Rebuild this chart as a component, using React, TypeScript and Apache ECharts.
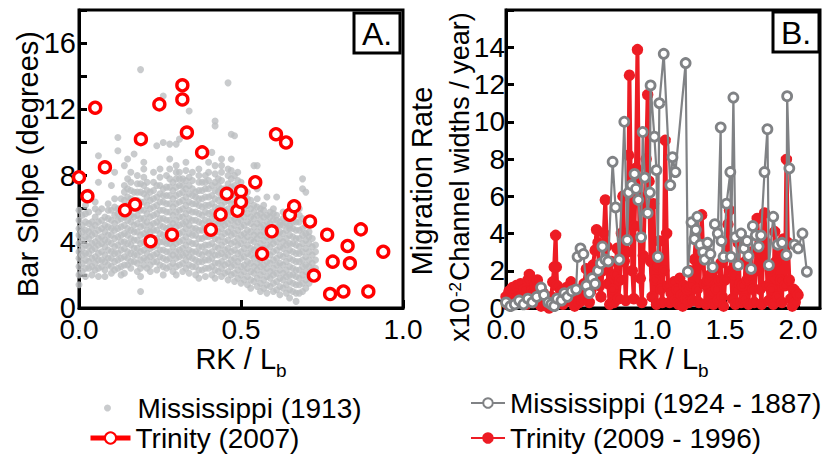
import React, { useEffect, useRef } from "react";
import * as echarts from "echarts";

const FONT = "'Liberation Sans Narrow', 'Arial Narrow', 'Liberation Sans', Arial, sans-serif";

// Panel A: Mississippi (1913) bar slope cloud, read column by column: "x|y y y ..."
const mississippiSlopeColumns: string[] = [
  "0.00|1.4 2.0 2.5 3.0 3.4 3.9 4.4 4.8 5.3 5.9",
  "0.01|2.2 2.7 3.2 3.6 4.1 4.6 5.0 5.6",
  "0.02|1.9 2.4 2.9 3.3 3.8 4.3 4.7 5.2 5.7 6.2",
  "0.03|2.4 2.8 3.3 3.7 4.2 4.6 5.1 5.8 7.0",
  "0.04|2.0 2.5 3.0 3.5 3.9 4.4 4.8 5.2",
  "0.05|2.3 2.7 3.1 3.6 4.0 4.5 5.0 5.5 6.0 6.4",
  "0.06|1.9 2.4 2.9 3.3 3.8 4.2 4.7 5.2 5.8 7.6 9.2",
  "0.07|2.5 2.9 3.4 3.9 4.3 4.8 5.3 6.0",
  "0.08|1.9 2.3 2.8 3.2 3.7 4.1 4.6 5.0 5.5",
  "0.09|2.6 3.0 3.5 4.0 4.4 4.9 5.4 5.9 6.3",
  "0.10|2.1 2.5 3.0 3.4 3.9 4.4 4.8 5.3 5.9 7.4",
  "0.11|2.3 2.8 3.3 3.7 4.2 4.7 5.1 5.6 6.1 6.6 8.2",
  "0.12|2.4 2.9 3.3 3.8 4.3 4.8 5.3 5.7 6.0 9.5 10.3",
  "0.13|2.0 2.5 3.0 3.5 4.0 4.4 4.9 5.4 5.9 6.6",
  "0.14|2.1 2.6 3.1 3.6 4.0 4.5 5.0 5.5 6.0 6.5 7.0 7.4 8.6",
  "0.15|2.6 3.0 3.4 3.9 4.4 4.8 5.3 5.8 6.2 6.7 7.2 7.8 9.0",
  "0.16|2.4 2.8 3.3 3.8 4.2 4.7 5.2 5.6 6.1 6.6 7.1 7.6 8.2",
  "0.17|2.8 3.2 3.6 4.1 4.6 5.0 5.5 6.0 6.5 7.0 9.3",
  "0.18|2.2 2.7 3.2 3.6 4.1 4.6 5.1 5.6 6.0 6.5 7.0 7.5 8.0",
  "0.19|1.0 1.9 2.4 2.9 3.4 3.9 4.4 4.9 5.4 5.9 6.4 7.0 7.5 14.4",
  "0.20|2.6 3.0 3.5 4.0 4.5 5.0 5.4 5.9 6.4 6.9 7.4 7.9 8.4 8.8",
  "0.21|2.4 2.9 3.3 3.8 4.3 4.7 5.2 5.7 6.2 6.7 7.1 7.6",
  "0.22|2.2 2.6 3.1 3.6 4.1 4.6 5.0 5.5 6.0 6.5 7.0",
  "0.23|2.8 3.2 3.7 4.2 4.7 5.1 5.6 6.1 6.6 7.1 7.6 8.2",
  "0.24|2.3 2.8 3.3 3.8 4.2 4.7 5.2 5.7 6.2 6.7 7.4 9.8",
  "0.25|2.6 3.1 3.5 4.0 4.5 5.0 5.4 5.9 6.4 6.9 7.4 7.9 8.4",
  "0.26|2.0 2.5 3.0 3.5 4.0 4.4 4.9 5.4 5.9 6.4 6.8 7.2 10.0 12.8",
  "0.27|2.4 2.9 3.4 3.9 4.3 4.8 5.3 5.8 6.3 6.8 7.3 8.0",
  "0.28|2.5 3.0 3.4 3.9 4.4 4.9 5.3 5.8 6.3 6.8 7.3 7.8 8.4 9.0 9.9",
  "0.29|2.2 2.7 3.2 3.7 4.1 4.6 5.1 5.6 6.1 6.6 7.1 7.6",
  "0.30|2.0 2.5 3.0 3.4 3.9 4.4 4.9 5.3 5.8 6.3 6.8 7.3 7.8 8.2 8.6 9.9",
  "0.31|2.6 3.1 3.5 4.0 4.5 5.0 5.5 5.9 6.4 6.9 7.4 7.8 8.2 10.2",
  "0.32|2.2 2.7 3.2 3.6 4.1 4.6 5.1 5.5 6.0 6.5 7.0 7.4 7.8",
  "0.33|2.4 2.9 3.3 3.8 4.3 4.8 5.2 5.7 6.2 6.7 7.2 7.7 8.3 8.8 10.8",
  "0.34|2.1 2.6 3.1 3.5 4.0 4.5 5.0 5.4 5.9 6.4 6.9 7.4 7.9 11.9",
  "0.35|2.5 3.0 3.4 3.9 4.4 4.8 5.3 5.8 6.3 6.8 7.2 7.7 8.2",
  "0.36|2.0 2.5 2.9 3.4 3.9 4.4 4.8 5.3 5.8 6.3 6.7 7.0",
  "0.37|1.8 2.3 2.8 3.3 3.7 4.2 4.7 5.2 5.7 6.2 6.6 7.1 7.6 8.0 8.4",
  "0.38|2.3 2.8 3.2 3.7 4.2 4.7 5.1 5.6 6.1 6.6 7.1 7.6",
  "0.39|1.9 2.4 2.9 3.4 3.8 4.3 4.8 5.3 5.8 6.2 6.7 7.2 7.6 8.0",
  "0.40|2.4 2.9 3.3 3.8 4.3 4.7 5.2 5.7 6.2 6.7 7.2 7.7 8.2 8.8",
  "0.41|2.0 2.5 3.0 3.4 3.9 4.4 4.9 5.4 5.8 6.3 6.8 7.4 9.4",
  "0.42|1.8 2.3 2.7 3.2 3.7 4.2 4.6 5.1 5.6 6.1 6.6 7.1 7.6 8.1 8.6 11.0 11.3",
  "0.43|2.2 2.7 3.2 3.6 4.1 4.6 5.1 5.5 6.0 6.5 7.0 7.4 7.8",
  "0.44|1.9 2.4 2.8 3.3 3.8 4.3 4.8 5.2 5.7 6.2 6.7 7.2 7.7 8.2 8.6 9.0",
  "0.45|2.1 2.6 3.1 3.5 4.0 4.5 5.0 5.4 5.9 6.4 6.8 7.2",
  "0.46|1.7 2.2 2.7 3.2 3.6 4.1 4.6 5.1 5.6 6.0 6.5 7.0 7.5 8.0 8.4 13.6",
  "0.47|2.0 2.5 2.9 3.4 3.9 4.4 4.8 5.3 5.8 6.3 6.8 7.3 7.8 8.3 9.0 10.5",
  "0.48|1.6 2.1 2.6 3.0 3.5 4.0 4.5 5.0 5.4 5.9 6.4 6.9 7.4 8.0 10.4",
  "0.49|1.8 2.3 2.8 3.3 3.8 4.2 4.7 5.2 5.7 6.2 6.7 7.2 7.7 8.2",
  "0.50|1.5 2.0 2.5 3.0 3.4 3.9 4.4 4.9 5.3 5.8 6.3 6.8 7.2 7.6",
  "0.51|1.7 2.2 2.6 3.1 3.6 4.1 4.5 5.0 5.5 6.0 6.4 6.8",
  "0.52|1.4 1.9 2.4 2.8 3.3 3.8 4.3 4.7 5.2 5.7 6.2 6.6 7.0",
  "0.53|1.2 1.7 2.2 2.7 3.2 3.6 4.1 4.6 5.1 5.5 6.0 6.5",
  "0.54|1.6 2.1 2.5 3.0 3.5 4.0 4.4 4.9 5.4 5.8 6.2 8.6",
  "0.55|1.3 1.8 2.3 2.7 3.2 3.7 4.2 4.6 5.1 5.6 6.1 6.6 7.2 8.6",
  "0.56|1.0 1.5 2.0 2.5 2.9 3.4 3.9 4.4 4.9 5.3 5.7 6.0",
  "0.57|1.2 1.7 2.2 2.6 3.1 3.6 4.1 4.6 5.0 5.5 5.9 6.2",
  "0.58|0.9 1.4 1.9 2.4 2.8 3.3 3.8 4.3 4.8 5.2 5.6 6.7",
  "0.59|1.3 1.8 2.2 2.7 3.2 3.7 4.1 4.6 5.1 5.5 5.8",
  "0.60|1.0 1.5 2.0 2.4 2.9 3.4 3.9 4.3 4.8 5.3 5.7 6.0",
  "0.61|1.1 1.6 2.1 2.6 3.0 3.5 4.0 4.5 4.9 5.3 5.6 6.7",
  "0.62|0.8 1.3 1.8 2.3 2.7 3.2 3.7 4.2 4.6 5.0 5.2",
  "0.63|1.2 1.7 2.1 2.6 3.1 3.6 4.0 4.5 5.0 5.4 5.8",
  "0.64|0.9 1.4 1.9 2.3 2.8 3.3 3.8 4.2 4.7 5.1 5.4",
  "0.65|0.6 1.1 1.6 2.0 2.5 3.0 3.5 3.9 4.4 4.8 5.0",
  "0.66|1.0 1.5 2.0 2.4 2.9 3.4 3.9 4.3 4.8 5.2 5.6",
  "0.67|0.4 0.9 1.4 1.9 2.3 2.8 3.3 3.8 4.2 4.7 5.2",
  "0.68|0.9 1.4 1.8 2.3 2.8 3.3 3.7 4.2 4.7 5.2 5.6 6.0",
  "0.69|1.0 1.5 2.0 2.5 2.9 3.4 3.9 4.4 4.8 5.4 7.2 7.8",
  "0.70|1.2 1.7 2.2 2.6 3.1 3.6 4.1 4.5 5.0 7.0",
  "0.71|1.5 2.0 2.5 2.9 3.4 3.9 4.3 4.6",
  "0.72|1.8 2.3 2.7 3.2 3.7 4.2",
  "0.73|2.0 2.4 2.9 3.4 3.8",
];

// Panel A: Trinity (2007) bar slope
const trinitySlope: number[][] = [
  [0.0, 7.9], [0.026, 6.75], [0.05, 12.1], [0.08, 8.5], [0.142, 5.9], [0.173, 6.25],
  [0.191, 10.2], [0.221, 4.03], [0.248, 12.3], [0.287, 4.43], [0.319, 13.45], [0.319, 12.6],
  [0.333, 10.6], [0.38, 9.4], [0.407, 4.73], [0.437, 5.65], [0.456, 6.9], [0.489, 5.87],
  [0.5, 7.05], [0.5, 6.4], [0.544, 7.6], [0.565, 3.27], [0.595, 4.63], [0.608, 10.5],
  [0.639, 10.0], [0.651, 5.63], [0.664, 6.15], [0.713, 5.23], [0.725, 1.96], [0.766, 4.43],
  [0.775, 0.84], [0.783, 2.8], [0.816, 1.0], [0.829, 3.75], [0.836, 2.7], [0.87, 4.75],
  [0.893, 1.0], [0.939, 3.4],
];

// Panel B: Mississippi (1924 - 1887) migration rate
const mississippiMigration: number[][] = [
  [0.0, 0.3], [0.03, 0.1], [0.06, 0.2], [0.09, 0.4], [0.12, 0.2], [0.15, 0.5], [0.18, 0.3],
  [0.21, 0.6], [0.24, 1.1], [0.26, 0.7], [0.29, 0.3], [0.31, 0.2], [0.33, 0.1], [0.35, 0.5],
  [0.38, 0.4], [0.4, 0.8], [0.42, 0.6], [0.45, 0.9], [0.48, 1.0], [0.49, 2.75], [0.51, 3.2],
  [0.53, 2.9], [0.55, 1.2], [0.57, 0.8], [0.59, 1.6], [0.61, 1.3], [0.63, 2.0], [0.65, 2.4],
  [0.66, 3.3], [0.68, 2.6], [0.7, 2.5], [0.73, 7.85], [0.75, 5.4], [0.776, 2.6], [0.81, 10.0],
  [0.83, 3.65], [0.84, 6.2], [0.86, 6.6], [0.88, 7.2], [0.89, 6.4], [0.906, 5.8], [0.925, 3.8],
  [0.936, 9.45], [0.95, 7.0], [0.97, 5.1], [0.985, 6.2], [0.99, 11.95], [1.016, 9.2], [1.03, 7.4],
  [1.04, 2.75], [1.05, 11.0], [1.08, 13.65], [1.125, 6.6], [1.14, 8.1], [1.16, 7.3], [1.23, 13.15],
  [1.245, 1.95], [1.27, 4.6], [1.29, 3.7], [1.3, 4.2], [1.31, 4.9], [1.33, 3.4], [1.35, 3.0],
  [1.36, 2.6], [1.38, 3.5], [1.4, 2.9], [1.415, 2.2], [1.43, 4.5], [1.45, 4.0], [1.47, 9.7],
  [1.475, 3.6], [1.49, 2.75], [1.51, 5.6], [1.536, 7.3], [1.54, 2.75], [1.557, 11.3], [1.57, 3.8],
  [1.59, 2.3], [1.61, 4.0], [1.63, 3.2], [1.65, 3.6], [1.66, 2.8], [1.678, 2.1], [1.69, 4.4],
  [1.71, 3.9], [1.73, 3.3], [1.746, 3.9], [1.77, 7.3], [1.79, 9.6], [1.8, 2.3], [1.83, 4.9],
  [1.86, 3.4], [1.89, 3.5], [1.92, 2.85], [1.925, 11.37], [1.94, 7.5], [1.975, 3.4], [2.0, 3.2],
  [2.03, 4.0], [2.06, 1.95],
];

// Panel B: Trinity (2009 - 1996) migration rate
const trinityMigration: number[][] = [
  [0.0, 0.6], [0.01, 0.2], [0.02, 0.9], [0.03, 0.5], [0.045, 1.1], [0.06, 0.3], [0.07, 1.2],
  [0.085, 0.4], [0.1, 1.3], [0.11, 0.7], [0.125, 1.0], [0.14, 0.2], [0.15, 1.5], [0.16, 1.8],
  [0.175, 0.9], [0.19, 0.3], [0.2, 1.2], [0.215, 1.5], [0.23, 0.6], [0.24, 0.1], [0.255, 0.8],
  [0.27, 0.3], [0.28, 0.5], [0.295, 0.0], [0.31, 0.6], [0.32, 1.4], [0.33, 2.2], [0.34, 3.9],
  [0.345, 2.2], [0.35, 1.2], [0.36, 0.5], [0.375, 0.9], [0.39, 0.2], [0.4, 0.6], [0.415, 1.1],
  [0.43, 0.4], [0.445, 1.4], [0.46, 0.8], [0.47, 0.1], [0.485, 0.5], [0.5, 0.3], [0.51, 1.0],
  [0.52, 0.4], [0.535, 1.3], [0.55, 2.1], [0.56, 1.4], [0.57, 0.3], [0.58, 0.9], [0.595, 2.3],
  [0.61, 3.1], [0.62, 4.2], [0.63, 3.5], [0.64, 1.2], [0.65, 0.6], [0.66, 2.0], [0.67, 4.0],
  [0.68, 5.8], [0.69, 3.3], [0.7, 1.3], [0.71, 0.2], [0.72, 2.5], [0.73, 1.0], [0.74, 0.3],
  [0.75, 1.8], [0.76, 3.2], [0.77, 0.5], [0.78, 1.5], [0.79, 4.0], [0.8, 6.0], [0.81, 2.5],
  [0.82, 0.4], [0.83, 3.0], [0.84, 8.2], [0.845, 12.5], [0.855, 6.3], [0.865, 2.0], [0.875, 0.5],
  [0.88, 4.4], [0.89, 7.5], [0.9, 13.87], [0.91, 6.0], [0.92, 1.6], [0.93, 0.3], [0.94, 2.8],
  [0.95, 5.5], [0.96, 8.0], [0.97, 11.45], [0.98, 6.8], [0.99, 2.5], [1.0, 0.6], [1.01, 5.6],
  [1.02, 1.5], [1.03, 0.2], [1.04, 2.2], [1.05, 3.6], [1.06, 1.0], [1.07, 0.3], [1.08, 2.0],
  [1.09, 9.0], [1.1, 4.0], [1.11, 1.2], [1.12, 0.3], [1.13, 0.8], [1.15, 1.4], [1.16, 0.4],
  [1.17, 1.0], [1.18, 0.2], [1.19, 1.6], [1.2, 0.7], [1.21, 0.1], [1.22, 1.2], [1.23, 0.5],
  [1.24, 1.0], [1.25, 0.3], [1.26, 2.0], [1.27, 1.2], [1.28, 0.4], [1.29, 2.6], [1.3, 3.8],
  [1.31, 1.0], [1.32, 0.3], [1.33, 2.5], [1.34, 5.0], [1.35, 3.0], [1.36, 1.3], [1.37, 0.2],
  [1.38, 1.5], [1.39, 0.5], [1.4, 1.8], [1.41, 0.8], [1.42, 0.2], [1.43, 2.1], [1.44, 1.0],
  [1.45, 0.4], [1.46, 1.5], [1.47, 2.4], [1.48, 0.6], [1.49, 0.1], [1.5, 1.5], [1.51, 3.0],
  [1.52, 4.5], [1.53, 5.25], [1.54, 2.0], [1.55, 0.5], [1.56, 1.8], [1.57, 0.2], [1.58, 1.0],
  [1.59, 3.5], [1.6, 1.3], [1.61, 0.3], [1.62, 1.2], [1.63, 0.5], [1.64, 2.5], [1.65, 1.5],
  [1.66, 0.2], [1.67, 1.8], [1.68, 3.0], [1.69, 1.0], [1.7, 0.3], [1.71, 2.0], [1.72, 4.8],
  [1.73, 3.2], [1.74, 1.0], [1.75, 0.2], [1.76, 2.8], [1.77, 5.1], [1.78, 3.5], [1.79, 1.2],
  [1.8, 0.4], [1.81, 2.0], [1.82, 1.0], [1.83, 0.2], [1.84, 4.1], [1.85, 2.5], [1.86, 0.6],
  [1.87, 3.0], [1.88, 1.5], [1.89, 0.3], [1.9, 3.7], [1.91, 1.2], [1.92, 7.97], [1.93, 3.5],
  [1.94, 1.5], [1.95, 0.5], [1.96, 0.1], [1.97, 1.0], [1.98, 0.3], [1.99, 0.8], [2.0, 0.7],
];

const seriesNames = {
  missA: "Mississippi (1913)",
  trinA: "Trinity (2007)",
  missB: "Mississippi (1924 - 1887)",
  trinB: "Trinity (2009 - 1996)",
};

export default function App() {
  const ref = useRef<HTMLDivElement>(null);

  useEffect(() => {
    if (!ref.current) return;
    const chart = echarts.init(ref.current, undefined, { renderer: "svg" });

    const missSlope = mississippiSlopeColumns.flatMap((s) => {
      const [x, ys] = s.split("|");
      return ys.split(" ").map((y) => [parseFloat(x), parseFloat(y)]);
    });

    const black = "#000";
    const tickStyle = { inside: true, length: 8, lineStyle: { width: 3, color: black } };
    const lineStyle = { lineStyle: { width: 3, color: black } };
    const labelBase = { fontSize: 28, color: black, fontFamily: FONT };
    const xNameStyle = {
      fontSize: 29,
      color: black,
      fontFamily: FONT,
      rich: {
        n: { fontSize: 29, fontFamily: FONT, color: black, lineHeight: 32, verticalAlign: "top" },
        sub: { fontSize: 19, fontFamily: FONT, color: black, lineHeight: 19, verticalAlign: "top", padding: [17, 0, 0, 0] },
      },
    };
    const legendText = { fontSize: 28, color: black, fontFamily: FONT, lineHeight: 32 };

    chart.setOption({
      animation: false,
      backgroundColor: "#fff",
      grid: [
        { left: 79, top: 10, width: 324, height: 298, show: true, borderColor: black, borderWidth: 3, containLabel: false },
        { left: 506, top: 10, width: 314, height: 298, show: true, borderColor: black, borderWidth: 3, containLabel: false },
      ],
      xAxis: [
        {
          gridIndex: 0, type: "value", min: 0, max: 1, interval: 0.5,
          axisLine: { onZero: false, ...lineStyle }, axisTick: tickStyle, splitLine: { show: false },
          axisLabel: { ...labelBase, margin: 7, formatter: (v: number) => v.toFixed(1) },
          name: "{n|RK / L}{sub|b}", nameLocation: "middle", nameGap: 36, nameMoveOverlap: false,
          nameTextStyle: xNameStyle,
        },
        {
          gridIndex: 1, type: "value", min: 0, max: 2.15, interval: 0.5,
          axisLine: { onZero: false, ...lineStyle }, axisTick: tickStyle, splitLine: { show: false },
          axisLabel: { ...labelBase, margin: 7, showMaxLabel: false, formatter: (v: number) => (v > 2.05 ? "" : v.toFixed(1)) },
          name: "{n|RK / L}{sub|b}", nameLocation: "middle", nameGap: 36, nameMoveOverlap: false,
          nameTextStyle: xNameStyle,
        },
      ],
      yAxis: [
        {
          gridIndex: 0, type: "value", min: 0, max: 18, interval: 2,
          axisLine: { onZero: false, ...lineStyle }, axisTick: tickStyle, splitLine: { show: false },
          axisLabel: { ...labelBase, fontSize: 29, margin: 3, formatter: (v: number) => (v % 4 === 0 && v < 18 ? String(v) : "") },
          name: "Bar Slolpe (degrees)", nameLocation: "middle", nameGap: 37, nameRotate: 90, nameMoveOverlap: false,
          nameTextStyle: { fontSize: 29, color: black, fontFamily: FONT, padding: [0, 10, 0, 0] },
        },
        {
          gridIndex: 1, type: "value", min: 0, max: 16, interval: 2,
          axisLine: { onZero: false, ...lineStyle }, axisTick: tickStyle, splitLine: { show: false },
          axisLabel: { ...labelBase, margin: 1, formatter: (v: number) => (v >= 16 ? "" : String(v)) },
        },
      ],
      legend: [
        {
          data: [seriesNames.missA], left: 104, top: 392, orient: "vertical", padding: 0,
          itemWidth: 40, itemHeight: 7, selectedMode: false,
          textStyle: { ...legendText, padding: [0, 0, 0, 5] },
        },
        {
          data: [seriesNames.trinA], left: 88, top: 422, orient: "vertical", padding: 0,
          itemWidth: 40, itemHeight: 14, selectedMode: false, textStyle: legendText,
          lineStyle: { opacity: 1, width: 5, color: "#ff0000" },
        },
        {
          data: [seriesNames.missB, seriesNames.trinB], left: 470, top: 387, orient: "vertical", padding: 0,
          itemWidth: 34, itemHeight: 12, itemGap: 3, selectedMode: false, textStyle: legendText,
        },
      ],
      series: [
        {
          name: seriesNames.missA, type: "scatter", xAxisIndex: 0, yAxisIndex: 0,
          data: missSlope, symbol: "circle", symbolSize: 7,
          itemStyle: { color: "#bcbec0" }, z: 2,
        },
        {
          name: seriesNames.trinA, type: "line", xAxisIndex: 0, yAxisIndex: 0,
          data: trinitySlope, symbol: "circle", symbolSize: 11, showSymbol: true,
          itemStyle: { color: "#fff", borderColor: "#ff0000", borderWidth: 3.4 },
          lineStyle: { color: "#ff0000", width: 5, opacity: 0 }, z: 3,
        },
        {
          name: seriesNames.trinB, type: "line", xAxisIndex: 1, yAxisIndex: 1,
          data: trinityMigration, symbol: "circle", symbolSize: 9, showSymbol: true,
          itemStyle: { color: "#ed1c24", borderColor: "#ed1c24", borderWidth: 2.5 },
          lineStyle: { color: "#ed1c24", width: 4 }, z: 2,
        },
        {
          name: seriesNames.missB, type: "line", xAxisIndex: 1, yAxisIndex: 1,
          data: mississippiMigration, symbol: "circle", symbolSize: 9, showSymbol: true,
          itemStyle: { color: "#fff", borderColor: "#808285", borderWidth: 2.8 },
          lineStyle: { color: "#808285", width: 2.2 }, z: 3,
        },
      ],
      graphic: [
        {
          type: "text", z: 50, x: 422, y: 181, rotation: Math.PI / 2,
          style: { text: "Migration Rate", fontSize: 29, fontFamily: FONT, fill: black, align: "center", verticalAlign: "middle" },
        },
        {
          type: "text", z: 50, x: 461, y: 177, rotation: Math.PI / 2,
          style: {
            text: "{t|x10}{s|-2}{t|Channel widths / year)}",
            align: "center", verticalAlign: "middle", fill: black,
            rich: {
              t: { fontSize: 27, fontFamily: FONT, fill: black, lineHeight: 30, verticalAlign: "top" },
              s: { fontSize: 17, fontFamily: FONT, fill: black, lineHeight: 17, verticalAlign: "top", padding: [1, 1, 0, 1] },
            },
          },
        },
        { type: "rect", z: 100, shape: { x: 354, y: 13, width: 46, height: 40 }, style: { fill: "#fff", stroke: black, lineWidth: 3 } },
        { type: "text", z: 101, x: 377, y: 34, style: { text: "A.", fontSize: 32, fontFamily: FONT, fill: black, align: "center", verticalAlign: "middle" } },
        { type: "rect", z: 100, shape: { x: 773, y: 12, width: 46, height: 40 }, style: { fill: "#fff", stroke: black, lineWidth: 3 } },
        { type: "text", z: 101, x: 796, y: 33, style: { text: "B.", fontSize: 32, fontFamily: FONT, fill: black, align: "center", verticalAlign: "middle" } },
      ],
    });

    return () => chart.dispose();
  }, []);

  return (
    <div
      ref={ref}
      style={{ position: "absolute", left: 0, top: 0, width: 823, height: 464, background: "#fff" }}
    />
  );
}
